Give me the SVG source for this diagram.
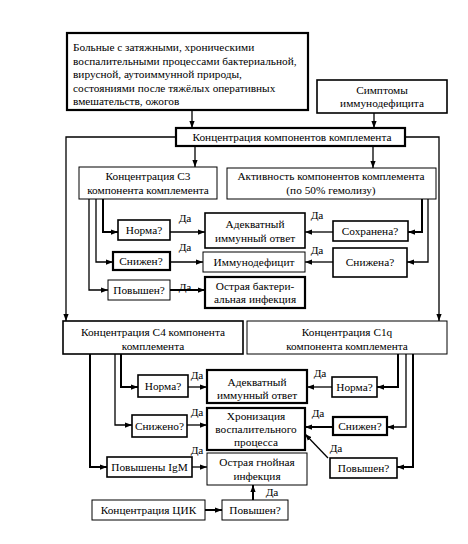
<svg xmlns="http://www.w3.org/2000/svg" width="468" height="544" viewBox="0 0 468 544">
<defs>
<marker id="a" viewBox="0 0 8 6" refX="8" refY="3" markerWidth="7" markerHeight="6" markerUnits="userSpaceOnUse" orient="auto"><path d="M0,0 L8,3 L0,6 z" fill="#000"/></marker>
<style>
rect{fill:#fff;stroke:#000}
.t1{stroke-width:1}
.t2{stroke-width:1.6}
.t3{stroke-width:2.2}
text{font-family:"Liberation Serif","Times New Roman",serif;font-size:11.3px;fill:#000}
.c{text-anchor:middle}
#conn path{fill:none;stroke:#000;stroke-width:1.3;marker-end:url(#a)}
</style>
</defs>
<rect x="0" y="0" width="468" height="544" style="fill:#fff;stroke:none"/>
<g id="conn">
<path d="M192,110 V128"/>
<path d="M374,113 V128"/>
<path d="M195,146 V167"/>
<path d="M373,146 V168"/>
<path d="M176,137 H66 V321"/>
<path d="M405,137 H439 V321"/>
<path d="M103,199 V232 H118" style="stroke-width:2"/>
<path d="M96,199 V262 H113"/>
<path d="M89,199 V290 H108"/>
<path d="M170,232 H205"/>
<path d="M170,262 H203"/>
<path d="M170,290 H205" style="stroke-width:2"/>
<path d="M422,199 V232 H408" style="stroke-width:2"/>
<path d="M428,199 V262 H407"/>
<path d="M333,232 H305"/>
<path d="M333,262 H305"/>
<path d="M121,354 V387 H138" style="stroke-width:2"/>
<path d="M115,354 V425 H132"/>
<path d="M90,354 V467 H107" style="stroke-width:2"/>
<path d="M188,387 H207"/>
<path d="M187,425 H207"/>
<path d="M192,467 H207"/>
<path d="M398,354 V387 H377" style="stroke-width:2"/>
<path d="M406,354 V427 H387"/>
<path d="M413,354 V467 H397" style="stroke-width:2"/>
<path d="M332,387 H307"/>
<path d="M333,427 H305" style="stroke-width:2"/>
<path d="M328,458 L305,434"/>
<path d="M205,510 H222" style="stroke-width:2"/>
<path d="M253,500 V485" style="stroke-width:2"/>
</g>
<g id="labels">
<text x="185" y="222" class="c">Да</text>
<text x="317" y="219" class="c">Да</text>
<text x="185" y="251" class="c">Да</text>
<text x="317" y="254" class="c">Да</text>
<text x="185" y="291" class="c">Да</text>
<text x="197" y="379" class="c">Да</text>
<text x="320" y="377" class="c">Да</text>
<text x="197" y="416" class="c">Да</text>
<text x="318" y="417" class="c">Да</text>
<text x="197" y="454" class="c">Да</text>
<text x="336" y="452" class="c">Да</text>
<text x="272" y="496" class="c">Да</text>
</g>
<g id="patients"><rect class="t3" x="67" y="33" width="241" height="77"/>
<text x="73" y="51">Больные с затяжными, хроническими</text>
<text x="73" y="64.5">воспалительными процессами бактериальной,</text>
<text x="73" y="78">вирусной, аутоиммунной природы,</text>
<text x="73" y="91.5">состояниями после тяжёлых оперативных</text>
<text x="73" y="105">вмешательств, ожогов</text></g>
<g id="symptoms"><rect class="t2" x="317" y="80" width="130" height="33"/>
<text x="382" y="94" class="c">Симптомы</text><text x="382" y="107" class="c">иммунодефицита</text></g>
<g id="conc"><rect class="t3" x="176" y="128" width="229" height="18"/>
<text x="292" y="141" class="c">Концентрация компонентов комплемента</text></g>
<g id="c3"><rect class="t1" x="79" y="167" width="138" height="32"/>
<text x="148" y="180" class="c">Концентрация С3</text><text x="148" y="194" class="c">компонента комплемента</text></g>
<g id="activity"><rect class="t1" x="227" y="168" width="209" height="31"/>
<text x="331" y="180" class="c">Активность компонентов комплемента</text><text x="331" y="194" class="c">(по 50% гемолизу)</text></g>
<g id="norm1"><rect class="t2" x="118" y="220" width="52" height="20"/><text x="144" y="234" class="c">Норма?</text></g>
<g id="adeq1"><rect class="t2" x="205" y="213" width="100" height="35"/>
<text x="255" y="228" class="c">Адекватный</text><text x="255" y="242" class="c">иммунный ответ</text></g>
<g id="kept"><rect class="t2" x="333" y="221" width="75" height="20"/><text x="370" y="235" class="c">Сохранена?</text></g>
<g id="low1"><rect class="t3" x="113" y="252" width="57" height="18"/><text x="141" y="265" class="c">Снижен?</text></g>
<g id="immdef"><rect class="t1" x="203" y="252" width="102" height="20"/><text x="254" y="266" class="c">Иммунодефицит</text></g>
<g id="low2"><rect class="t2" x="333" y="248" width="74" height="29"/><text x="370" y="266" class="c">Снижена?</text></g>
<g id="high1"><rect class="t1" x="108" y="280" width="62" height="20"/><text x="139" y="294" class="c">Повышен?</text></g>
<g id="bact"><rect class="t3" x="205" y="277" width="100" height="31"/>
<text x="255" y="290" class="c">Острая бактери-</text><text x="255" y="303" class="c">альная инфекция</text></g>
<g id="c4"><rect class="t2" x="63" y="321" width="180" height="33"/>
<text x="153" y="336" class="c">Концентрация С4 компонента</text><text x="153" y="350" class="c">комплемента</text></g>
<g id="c1q"><rect class="t1" x="247" y="321" width="200" height="33"/>
<text x="347" y="336" class="c">Концентрация С1q</text><text x="347" y="350" class="c">компонента комплемента</text></g>
<g id="norm2"><rect class="t2" x="138" y="375" width="50" height="22"/><text x="163" y="390" class="c">Норма?</text></g>
<g id="adeq2"><rect class="t3" x="207" y="370" width="100" height="33"/>
<text x="257" y="386" class="c">Адекватный</text><text x="257" y="399" class="c">иммунный ответ</text></g>
<g id="norm3"><rect class="t2" x="332" y="377" width="45" height="20"/><text x="354.5" y="391" class="c">Норма?</text></g>
<g id="low3"><rect class="t2" x="132" y="415" width="55" height="22"/><text x="159.5" y="430" class="c">Снижено?</text></g>
<g id="chron"><rect class="t3" x="207" y="408" width="98" height="42"/>
<text x="256" y="420" class="c">Хронизация</text><text x="256" y="433" class="c">воспалительного</text><text x="256" y="446" class="c">процесса</text></g>
<g id="low4"><rect class="t3" x="333" y="417" width="54" height="18"/><text x="360" y="430" class="c">Снижен?</text></g>
<g id="igm"><rect class="t2" x="107" y="457" width="85" height="20"/><text x="149.5" y="471" class="c">Повышены IgM</text></g>
<g id="pus"><rect class="t1" x="207" y="453" width="100" height="32"/>
<text x="257" y="466" class="c">Острая гнойная</text><text x="257" y="480" class="c">инфекция</text></g>
<g id="high2"><rect class="t2" x="330" y="458" width="67" height="20"/><text x="363.5" y="472" class="c">Повышен?</text></g>
<g id="cik"><rect class="t1" x="92" y="500" width="113" height="20"/><text x="148.5" y="514" class="c">Концентрация ЦИК</text></g>
<g id="high3"><rect class="t1" x="222" y="500" width="66" height="20"/><text x="255" y="514" class="c">Повышен?</text></g>
</svg>
